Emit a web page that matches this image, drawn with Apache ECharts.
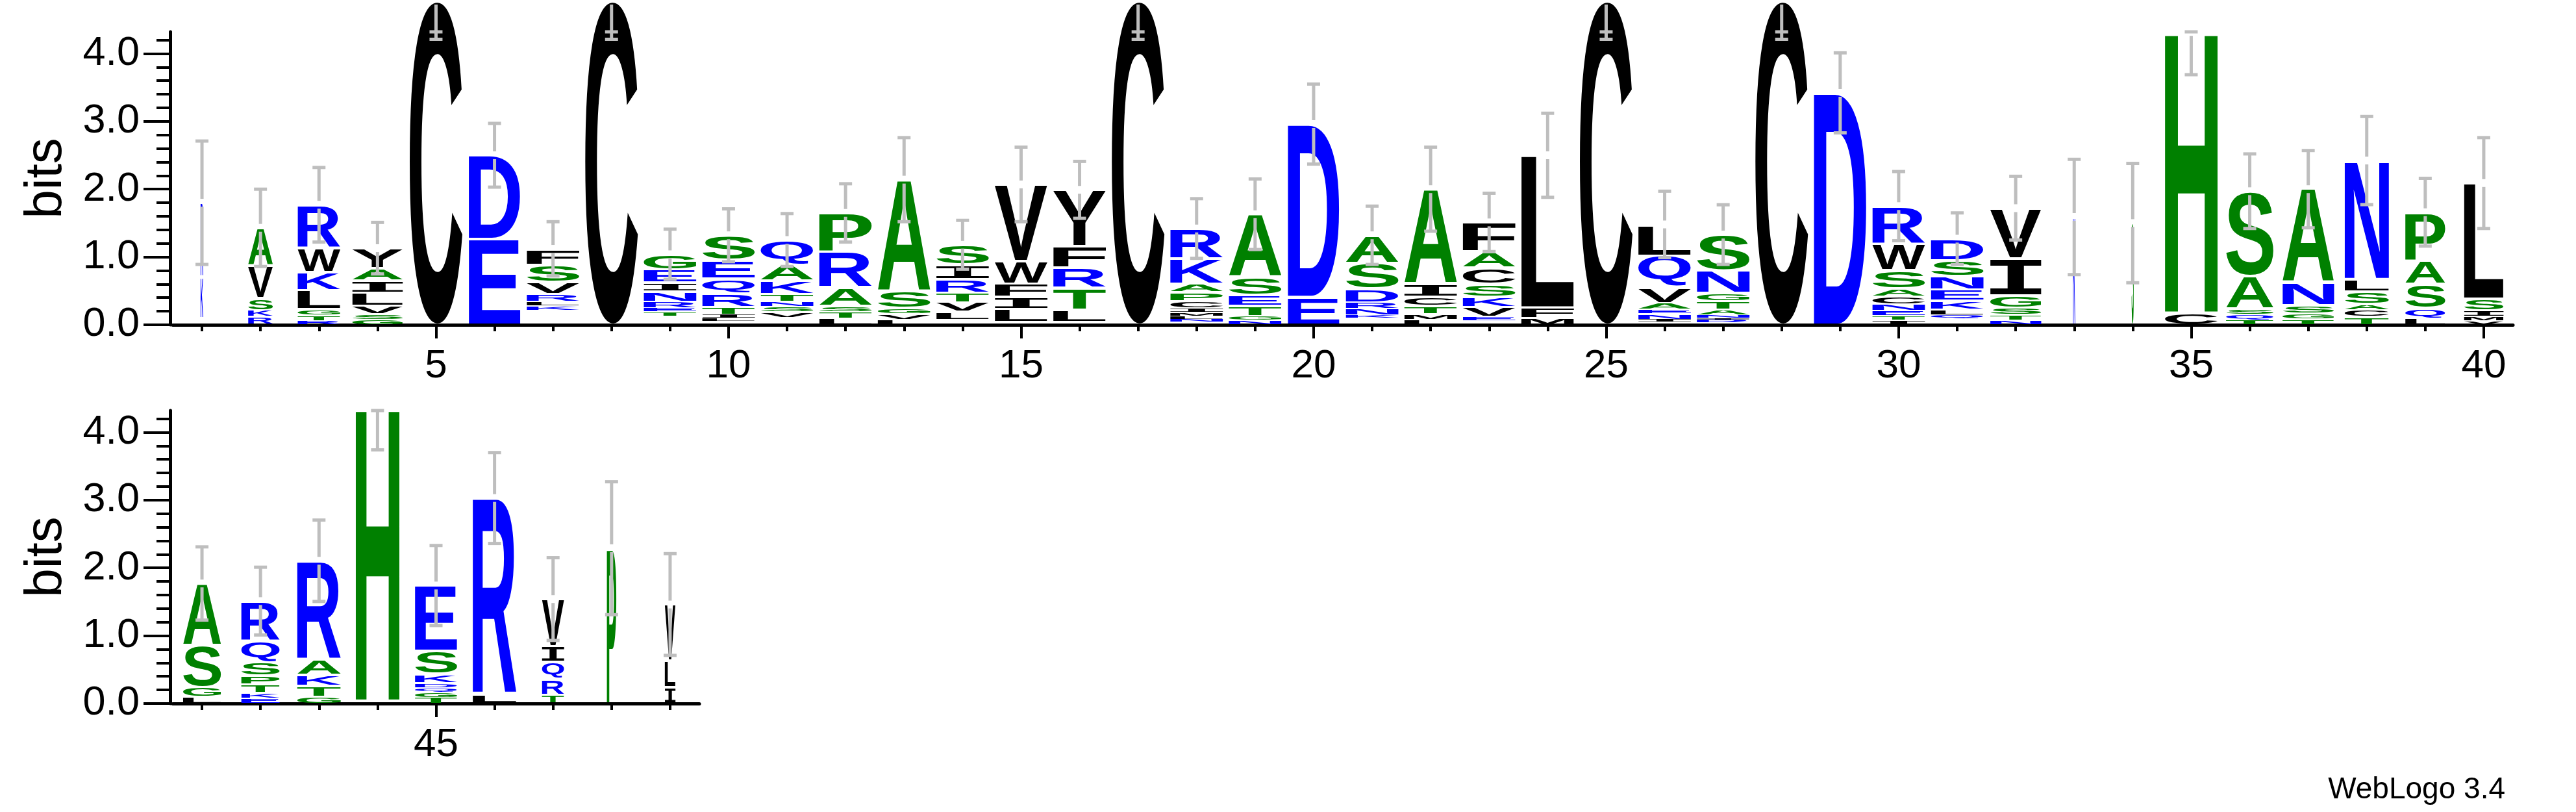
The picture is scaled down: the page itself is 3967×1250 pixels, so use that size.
<!DOCTYPE html>
<html>
<head>
<meta charset="utf-8">
<script src="https://cdn.jsdelivr.net/npm/echarts@6/dist/echarts.min.js"></script>
<style>
  html, body { margin: 0; padding: 0; background: #fff; }
  #chart { width: 3967px; height: 1250px; }
</style>
</head>
<body>
<div id="chart"></div>
<script>
// sequence positions (1-40 top row, 41-49 bottom row)
const positions = [1, 2, 3, 4, 5, 6, 7, 8, 9, 10, 11, 12, 13, 14, 15, 16, 17, 18, 19, 20,
  21, 22, 23, 24, 25, 26, 27, 28, 29, 30, 31, 32, 33, 34, 35, 36, 37, 38, 39, 40,
  41, 42, 43, 44, 45, 46, 47, 48, 49];

// letter stacks, bottom to top: [residue, bits]
const stacks = [
  [['K', 0.60], ['R', 1.10]],
  [['R', 0.12], ['K', 0.09], ['S', 0.18], ['V', 0.48], ['A', 0.56]],
  [['R', 0.06], ['T', 0.08], ['G', 0.09], ['L', 0.28], ['K', 0.27], ['W', 0.36], ['R', 0.63]],
  [['G', 0.08], ['S', 0.08], ['V', 0.12], ['L', 0.19], ['I', 0.18], ['A', 0.18], ['Y', 0.30]],
  [['C', 4.78]],
  [['E', 1.265], ['D', 1.235]],
  [['K', 0.07], ['L', 0.06], ['R', 0.11], ['V', 0.18], ['S', 0.25], ['F', 0.24]],
  [['C', 4.78]],
  [['T', 0.06], ['E', 0.06], ['R', 0.09], ['N', 0.15], ['I', 0.13], ['E', 0.19], ['G', 0.23]],
  [['L', 0.05], ['I', 0.055], ['T', 0.105], ['R', 0.20], ['Q', 0.22], ['E', 0.27], ['S', 0.37]],
  [['V', 0.08], ['S', 0.075], ['N', 0.075], ['T', 0.11], ['K', 0.20], ['A', 0.24], ['Q', 0.36]],
  [['L', 0.09], ['T', 0.10], ['S', 0.09], ['A', 0.27], ['R', 0.53], ['P', 0.57]],
  [['L', 0.08], ['V', 0.08], ['G', 0.085], ['S', 0.255], ['A', 1.64]],
  [['L', 0.115], ['V', 0.14], ['T', 0.14], ['R', 0.20], ['I', 0.22], ['S', 0.29]],
  [['L', 0.19], ['I', 0.18], ['F', 0.195], ['W', 0.335], ['V', 1.13]],
  [['L', 0.18], ['T', 0.32], ['R', 0.30], ['F', 0.32], ['Y', 0.83]],
  [['C', 4.78]],
  [['N', 0.04], ['L', 0.05], ['M', 0.05], ['I', 0.065], ['C', 0.105], ['P', 0.13], ['A', 0.125], ['K', 0.365], ['R', 0.45]],
  [['N', 0.07], ['G', 0.06], ['T', 0.15], ['E', 0.155], ['S', 0.265], ['A', 0.93]],
  [['E', 0.41], ['D', 2.55]],
  [['K', 0.04], ['N', 0.095], ['R', 0.095], ['D', 0.20], ['S', 0.38], ['A', 0.41]],
  [['L', 0.08], ['M', 0.08], ['T', 0.115], ['C', 0.135], ['I', 0.19], ['A', 1.40]],
  [['E', 0.06], ['V', 0.145], ['K', 0.145], ['S', 0.19], ['C', 0.24], ['A', 0.24], ['F', 0.43]],
  [['M', 0.10], ['F', 0.155], ['L', 2.245]],
  [['C', 4.78]],
  [['I', 0.04], ['N', 0.08], ['E', 0.07], ['A', 0.09], ['V', 0.235], ['Q', 0.465], ['L', 0.46]],
  [['R', 0.04], ['I', 0.035], ['N', 0.04], ['A', 0.075], ['T', 0.13], ['G', 0.12], ['N', 0.33], ['S', 0.53]],
  [['C', 4.78]],
  [['D', 3.42]],
  [['I', 0.065], ['T', 0.07], ['E', 0.075], ['N', 0.09], ['C', 0.115], ['A', 0.115], ['S', 0.27], ['W', 0.39], ['R', 0.56]],
  [['Q', 0.05], ['L', 0.085], ['K', 0.125], ['E', 0.17], ['N', 0.195], ['S', 0.235], ['D', 0.32]],
  [['N', 0.07], ['T', 0.08], ['S', 0.095], ['G', 0.19], ['I', 0.545], ['V', 0.74]],
  [['K', 1.59]],
  [['S', 1.50]],
  [['C', 0.178], ['H', 4.14]],
  [['T', 0.075], ['Q', 0.08], ['S', 0.08], ['A', 0.485], ['S', 1.25]],
  [['T', 0.08], ['G', 0.085], ['S', 0.12], ['N', 0.335], ['A', 1.38]],
  [['T', 0.117], ['C', 0.10], ['A', 0.085], ['S', 0.185], ['L', 0.185], ['N', 1.75]],
  [['L', 0.095], ['Q', 0.15], ['S', 0.355], ['A', 0.35], ['P', 0.71]],
  [['V', 0.055], ['M', 0.07], ['I', 0.085], ['S', 0.175], ['L', 1.705]],
  [['L', 0.10], ['G', 0.14], ['S', 0.615], ['A', 0.915]],
  [['E', 0.08], ['K', 0.075], ['T', 0.125], ['P', 0.125], ['S', 0.205], ['Q', 0.315], ['R', 0.585]],
  [['G', 0.10], ['T', 0.16], ['K', 0.16], ['A', 0.235], ['R', 1.45]],
  [['H', 4.32]],
  [['T', 0.09], ['G', 0.075], ['Q', 0.07], ['D', 0.065], ['K', 0.135], ['S', 0.34], ['E', 0.965]],
  [['L', 0.135], ['R', 2.895]],
  [['T', 0.125], ['R', 0.24], ['Q', 0.245], ['I', 0.235], ['V', 0.695]],
  [['P', 2.29]],
  [['I', 0.24], ['L', 0.39], ['V', 0.83]]
];

// bits taken by residues too small to be drawn (bottom of each stack)
const undrawn = [0.10, 0, 0, 0, 0, 0, 0.21, 0, 0.13, 0.05, 0.11, 0, 0, 0.075, 0.04, 0.04, 0, 0.04, 0, 0,
  0.10, 0, 0.06, 0, 0, 0.04, 0.03, 0, 0, 0, 0.09, 0, 0, 0, 0, 0, 0, 0, 0, 0,
  0, 0, 0, 0.04, 0, 0, 0, 0, 0];

// fraction of sequences present (stack width)
const occupancy = [0.05, 0.47, 0.81, 0.96, 1, 0.98, 1, 1, 1, 1, 1, 1, 1, 1, 1, 1, 1, 1, 1, 0.98,
  1, 1, 1, 1, 1, 1, 1, 1, 1, 1, 1, 0.97, 0.04, 0.04, 1, 0.9, 0.98, 0.84, 0.76, 0.75,
  0.72, 0.73, 0.83, 0.83, 0.8, 0.83, 0.42, 0.18, 0.2];

// error bar half-heights (bits)
const errorBits = [0.91, 0.57, 0.55, 0.38, 0.57, 0.47, 0.40, 0.57, 0.37, 0.39, 0.39, 0.43, 0.62, 0.36, 0.55, 0.42, 0.57, 0.44, 0.52, 0.59,
  0.43, 0.62, 0.43, 0.62, 0.57, 0.49, 0.44, 0.57, 0.59, 0.51, 0.38, 0.47, 0.85, 0.88, 0.63, 0.55, 0.57, 0.65, 0.50, 0.67,
  0.54, 0.50, 0.60, 0.62, 0.59, 0.67, 0.61, 0.98, 0.75];

const topTickLabels = [5, 10, 15, 20, 25, 30, 35, 40];
const bottomTickLabels = [45];
const yTicks = [0, 1, 2, 3, 4];
const yMinorTicks = [0.2, 0.4, 0.6, 0.8, 1.2, 1.4, 1.6, 1.8, 2.2, 2.4, 2.6, 2.8, 3.2, 3.4, 3.6, 3.8, 4.2];

const Y_MAX = 4.32;
const GREEN = '#008000', BLUE = '#0000ff', BLACK = '#000000';
const colorOf = {
  A: GREEN, G: GREEN, H: GREEN, P: GREEN, S: GREEN, T: GREEN,
  D: BLUE, E: BLUE, K: BLUE, N: BLUE, Q: BLUE, R: BLUE,
  C: BLACK, F: BLACK, I: BLACK, L: BLACK, M: BLACK, V: BLACK, W: BLACK, Y: BLACK
};
const AXIS_FONT = '"Liberation Sans", Arial, Helvetica, sans-serif';
const GLYPH_FONT = 'bold 200px "Liberation Sans", Arial, sans-serif';
// the logo's I has bars top and bottom, like a slab serif
const I_FONT = 'bold 200px "Liberation Mono", "DejaVu Sans Mono", monospace';
const fontOf = ch => (ch === 'I' ? I_FONT : GLYPH_FONT);

// ink box of each glyph, relative to a left / middle anchor
const measureCtx = document.createElement('canvas').getContext('2d');
measureCtx.textAlign = 'left';
measureCtx.textBaseline = 'middle';
const inkCache = {};
function inkOf(ch) {
  if (!inkCache[ch]) {
    measureCtx.font = fontOf(ch);
    const m = measureCtx.measureText(ch);
    inkCache[ch] = {
      l: m.actualBoundingBoxLeft, r: m.actualBoundingBoxRight,
      a: m.actualBoundingBoxAscent, d: m.actualBoundingBoxDescent
    };
  }
  return inkCache[ch];
}

const glyphs = [];
const stackTops = [];
positions.forEach((p, i) => {
  let y = undrawn[i];
  stacks[i].forEach(([ch, h]) => {
    glyphs.push({ pos: p, y0: y, y1: y + h, half: occupancy[i] * 0.45, ch });
    y += h;
  });
  stackTops.push(y);
});

function glyphData(upper) {
  const out = [];
  glyphs.forEach((g, idx) => {
    if ((g.pos <= 40) === upper) out.push([g.pos, g.y0, g.y1, g.half, idx]);
  });
  return out;
}
function errorData(upper) {
  const out = [];
  positions.forEach((p, i) => {
    if ((p <= 40) === upper) out.push([p, stackTops[i], errorBits[i]]);
  });
  return out;
}

function renderGlyph(params, api) {
  const g = glyphs[api.value(4)];
  const tl = api.coord([g.pos - g.half, g.y1]);
  const br = api.coord([g.pos + g.half, g.y0]);
  let top = tl[1], bottom = br[1];
  const h = bottom - top;
  if (h < 1) return null;
  const inset = Math.min(2, h * 0.12);
  top += inset; bottom -= inset;
  const ink = inkOf(g.ch);
  const sx = (br[0] - tl[0]) / (ink.l + ink.r);
  const sy = (bottom - top) / (ink.a + ink.d);
  return {
    type: 'text',
    silent: true,
    x: tl[0] + ink.l * sx,
    y: top + ink.a * sy,
    scaleX: sx,
    scaleY: sy,
    style: {
      text: g.ch, x: 0, y: 0,
      font: fontOf(g.ch),
      fill: colorOf[g.ch],
      align: 'left', verticalAlign: 'middle'
    }
  };
}

function renderError(params, api) {
  const p = api.value(0), top = api.value(1), e = api.value(2);
  const cTop = api.coord([p, top]);
  const cLo = api.coord([p, top - e]);
  const cHi = api.coord([p, Math.min(top + e, Y_MAX)]);
  const x = cTop[0], gap = 6, cap = 10;
  const style = { stroke: '#bebebe', lineWidth: 5 };
  const children = [
    { type: 'line', shape: { x1: x, y1: cLo[1], x2: x, y2: cTop[1] + gap }, style },
    { type: 'line', shape: { x1: x - cap, y1: cLo[1], x2: x + cap, y2: cLo[1] }, style },
    { type: 'line', shape: { x1: x - cap, y1: cHi[1], x2: x + cap, y2: cHi[1] }, style }
  ];
  if (cHi[1] < cTop[1] - gap) {
    children.push({ type: 'line', shape: { x1: x, y1: cTop[1] - gap, x2: x, y2: cHi[1] }, style });
  }
  return { type: 'group', silent: true, children };
}

function xAxes(gridIndex, min, max, ticks, labels) {
  return [{
    type: 'value', gridIndex, min, max, position: 'bottom',
    axisLine: { lineStyle: { color: '#000', width: 5 } },
    axisTick: { customValues: ticks, length: 10, lineStyle: { color: '#000', width: 4 } },
    axisLabel: { show: false },
    splitLine: { show: false }
  }, {
    type: 'value', gridIndex, min, max, position: 'bottom',
    axisLine: { show: false },
    axisTick: { customValues: labels, length: 21, lineStyle: { color: '#000', width: 4 } },
    axisLabel: {
      customValues: labels, margin: 33, color: '#000',
      fontSize: 62, fontFamily: AXIS_FONT
    },
    splitLine: { show: false }
  }];
}
function yAxes(gridIndex) {
  return [{
    type: 'value', gridIndex, min: 0, max: Y_MAX, offset: 4, position: 'left',
    name: 'bits', nameLocation: 'middle', nameGap: 150,
    nameTextStyle: { fontSize: 80, color: '#000', fontFamily: AXIS_FONT },
    axisLine: { show: true, lineStyle: { color: '#000', width: 5 } },
    axisTick: { customValues: yTicks, length: 41, lineStyle: { color: '#000', width: 4 } },
    axisLabel: {
      customValues: yTicks, margin: 47, color: '#000',
      fontSize: 63, fontFamily: AXIS_FONT,
      formatter: v => v.toFixed(1)
    },
    splitLine: { show: false }
  }, {
    type: 'value', gridIndex, min: 0, max: Y_MAX, offset: 4, position: 'left',
    axisLine: { show: false },
    axisTick: { customValues: yMinorTicks, length: 21, lineStyle: { color: '#000', width: 4 } },
    axisLabel: { show: false },
    splitLine: { show: false }
  }];
}

const chart = echarts.init(document.getElementById('chart'), null, { renderer: 'canvas' });
chart.setOption({
  animation: false,
  backgroundColor: '#fff',
  title: {
    text: 'WebLogo 3.4', right: 104, top: 1188,
    textStyle: { fontSize: 46, fontWeight: 'normal', color: '#000', fontFamily: AXIS_FONT }
  },
  grid: [
    { left: 266, top: 49, width: 3604, height: 451 },
    { left: 266, top: 632, width: 811, height: 451 }
  ],
  xAxis: [
    ...xAxes(0, 0.5, 40.5, positions.filter(p => p <= 40), topTickLabels),
    ...xAxes(1, 40.5, 49.5, positions.filter(p => p > 40), bottomTickLabels)
  ],
  yAxis: [...yAxes(0), ...yAxes(1)],
  series: [
    { type: 'custom', xAxisIndex: 0, yAxisIndex: 0, clip: false, renderItem: renderGlyph, data: glyphData(true), z: 3 },
    { type: 'custom', xAxisIndex: 2, yAxisIndex: 2, clip: false, renderItem: renderGlyph, data: glyphData(false), z: 3 },
    { type: 'custom', xAxisIndex: 0, yAxisIndex: 0, clip: false, renderItem: renderError, data: errorData(true), z: 4 },
    { type: 'custom', xAxisIndex: 2, yAxisIndex: 2, clip: false, renderItem: renderError, data: errorData(false), z: 4 }
  ]
});
window.addEventListener('resize', () => chart.resize());
</script>
</body>
</html>
